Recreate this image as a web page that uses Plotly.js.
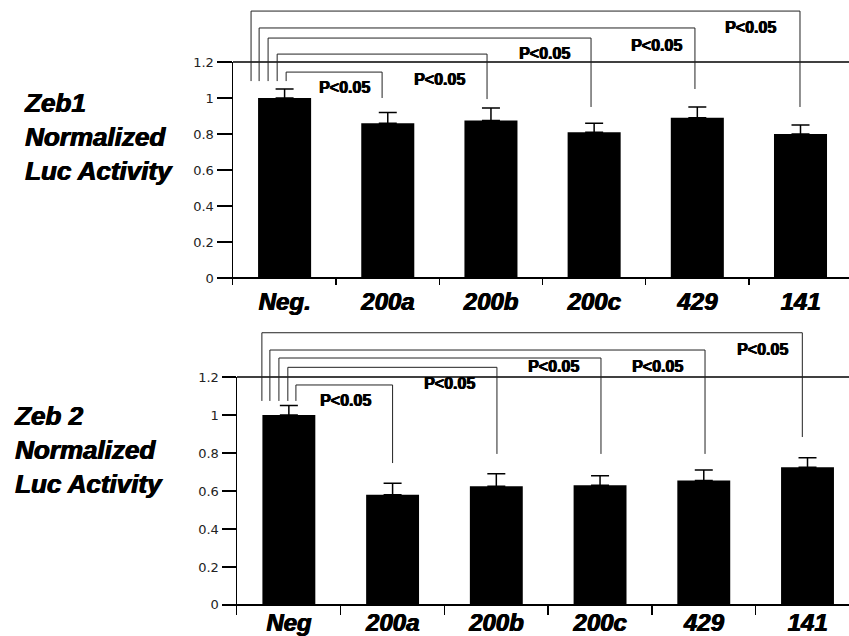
<!DOCTYPE html>
<html>
<head>
<meta charset="utf-8">
<script src="https://cdn.plot.ly/plotly-3.0.1.min.js"></script>
<style>
  html, body { margin: 0; padding: 0; background: #fff; }
  #top { position: absolute; left: 0; top: 0; width: 849px; height: 318px; }
  #bot { position: absolute; left: 0; top: 318px; width: 849px; height: 318px; }
</style>
</head>
<body>
<div id="top"></div>
<div id="bot"></div>
<script>
// ---------- data ----------
const categoriesZeb1 = ["Neg.", "200a", "200b", "200c", "429", "141"];
const valuesZeb1 = [1.0, 0.86, 0.875, 0.81, 0.89, 0.80];
const errorsZeb1 = [0.05, 0.06, 0.07, 0.05, 0.06, 0.05];

const categoriesZeb2 = ["Neg", "200a", "200b", "200c", "429", "141"];
const valuesZeb2 = [1.0, 0.58, 0.625, 0.63, 0.655, 0.725];
const errorsZeb2 = [0.05, 0.06, 0.065, 0.05, 0.055, 0.05];

const yTickVals = [0, 0.2, 0.4, 0.6, 0.8, 1, 1.2];
const yTickText = ["0", "0.2", "0.4", "0.6", "0.8", "1", "1.2"];
const sigLabel = "P<0.05";

const titleZeb1 = "Zeb1";
const titleZeb2 = "Zeb 2";
const titleLine2 = "Normalized";
const titleLine3 = "Luc Activity";

const heavy = '0.7px 0 0 #000, -0.3px 0 0 #000';

// ---------- layout helpers ----------
function makeFigure(divId, cats, vals, errs, title, cfg) {
  const yr = cfg.yrange;
  const p = v => (v - yr[0]) / (yr[1] - yr[0]);
  const shapes = [];
  const annotations = [];
  // top frame line at 1.2
  shapes.push({type: 'line', xref: 'paper', yref: 'paper', x0: 0, x1: 1, y0: 1, y1: 1,
               line: {color: '#000', width: 1.3}});
  // significance brackets
  cfg.br.forEach(b => {
    const ln = {color: '#222', width: 1};
    shapes.push({type: 'line', xref: 'x', yref: 'paper', x0: b.xl, x1: b.xl, y0: p(cfg.leftBottom), y1: p(b.level), line: ln});
    shapes.push({type: 'line', xref: 'x', yref: 'paper', x0: b.xl, x1: b.xr, y0: p(b.level), y1: p(b.level), line: ln});
    shapes.push({type: 'line', xref: 'x', yref: 'paper', x0: b.xr, x1: b.xr, y0: p(b.level), y1: p(b.drop), line: ln});
    annotations.push({xref: 'x', yref: 'paper', x: b.lx, y: p(b.ly), text: sigLabel, showarrow: false,
                      xanchor: 'center', yanchor: 'middle',
                      font: {family: 'Liberation Sans, Arial, sans-serif', size: 16, weight: 'bold', color: '#000', shadow: heavy}});
  });
  // left title
  annotations.push({xref: 'paper', yref: 'paper', x: cfg.titleX, y: cfg.titleY, xanchor: 'left', yanchor: 'middle',
                    align: 'left', showarrow: false,
                    text: title + '<br>' + titleLine2 + '<br>' + titleLine3,
                    font: {family: 'Liberation Sans, Arial, sans-serif', size: 26, weight: 'bold', style: 'italic', color: '#000', shadow: heavy}});

  const trace = {
    type: 'bar', x: cats, y: vals, width: cfg.barWidth,
    marker: {color: '#000', line: {width: 0}},
    error_y: {type: 'data', symmetric: false, array: errs, arrayminus: errs.map(() => 0),
              color: '#000', thickness: 1.5, width: 9},
    hoverinfo: 'none'
  };
  const layout = {
    width: 849, height: 318,
    margin: {l: cfg.ml, r: 0, t: cfg.mt, b: cfg.mb, pad: 0},
    paper_bgcolor: '#fff', plot_bgcolor: '#fff',
    showlegend: false,
    xaxis: {
      type: 'category', range: cfg.xrange, fixedrange: true,
      showline: false, showgrid: false, zeroline: false,
      ticks: 'inside', tickson: 'boundaries', ticklen: cfg.sepLen, tickwidth: 1.5, tickcolor: '#000',
      tickfont: {family: 'Liberation Sans, Arial, sans-serif', size: 24, weight: 'bold', style: 'italic', color: '#000', shadow: heavy},
      ticklabelstandoff: cfg.standoff
    },
    yaxis: {
      range: yr, fixedrange: true,
      showline: true, linecolor: '#000', linewidth: 1.5,
      showgrid: false, zeroline: true, zerolinecolor: '#000', zerolinewidth: 1.5,
      tickmode: 'array', tickvals: yTickVals, ticktext: yTickText,
      ticks: 'outside', ticklen: cfg.yTickLen, tickwidth: 1.3, tickcolor: '#000',
      tickfont: {family: 'DejaVu Sans, sans-serif', size: 13, color: '#222'}
    },
    shapes: shapes,
    annotations: annotations
  };
  Plotly.newPlot(divId, [trace], layout, {staticPlot: true, displayModeBar: false});
}

makeFigure('top', categoriesZeb1, valuesZeb1, errorsZeb1, titleZeb1, {
  yrange: [-0.039, 1.2], xrange: [-0.5, 5.47], barWidth: 0.514,
  ml: 233, mt: 62, mb: 33, sepLen: 7, yTickLen: 15, standoff: 0,
  titleX: -0.3425, titleY: 0.664,
  leftBottom: 1.094,
  br: [
    {xl: 0.015, xr: 0.945, level: 1.144, drop: 1.0, lx: 0.577, ly: 1.056},
    {xl: -0.072, xr: 1.962, level: 1.244, drop: 0.994, lx: 1.497, ly: 1.1},
    {xl: -0.16, xr: 2.97, level: 1.333, drop: 0.95, lx: 2.515, ly: 1.25},
    {xl: -0.247, xr: 3.977, level: 1.389, drop: 1.05, lx: 3.6, ly: 1.294},
    {xl: -0.325, xr: 4.995, level: 1.483, drop: 0.95, lx: 4.52, ly: 1.394}
  ]
});

makeFigure('bot', categoriesZeb2, valuesZeb2, errorsZeb2, titleZeb2, {
  yrange: [-0.053, 1.2], xrange: [-0.5, 5.4], barWidth: 0.51,
  ml: 237, mt: 59, mb: 21, sepLen: 10, yTickLen: 14, standoff: -9,
  titleX: -0.3676, titleY: 0.693,
  leftBottom: 1.074,
  br: [
    {xl: 0.068, xr: 1.0, level: 1.158, drop: 0.747, lx: 0.55, ly: 1.075},
    {xl: -0.01, xr: 2.006, level: 1.251, drop: 0.795, lx: 1.553, ly: 1.168},
    {xl: -0.096, xr: 3.009, level: 1.3, drop: 0.795, lx: 2.555, ly: 1.254},
    {xl: -0.183, xr: 4.012, level: 1.342, drop: 0.795, lx: 3.558, ly: 1.253},
    {xl: -0.26, xr: 4.95, level: 1.433, drop: 0.884, lx: 4.57, ly: 1.347}
  ]
});
</script>
</body>
</html>
